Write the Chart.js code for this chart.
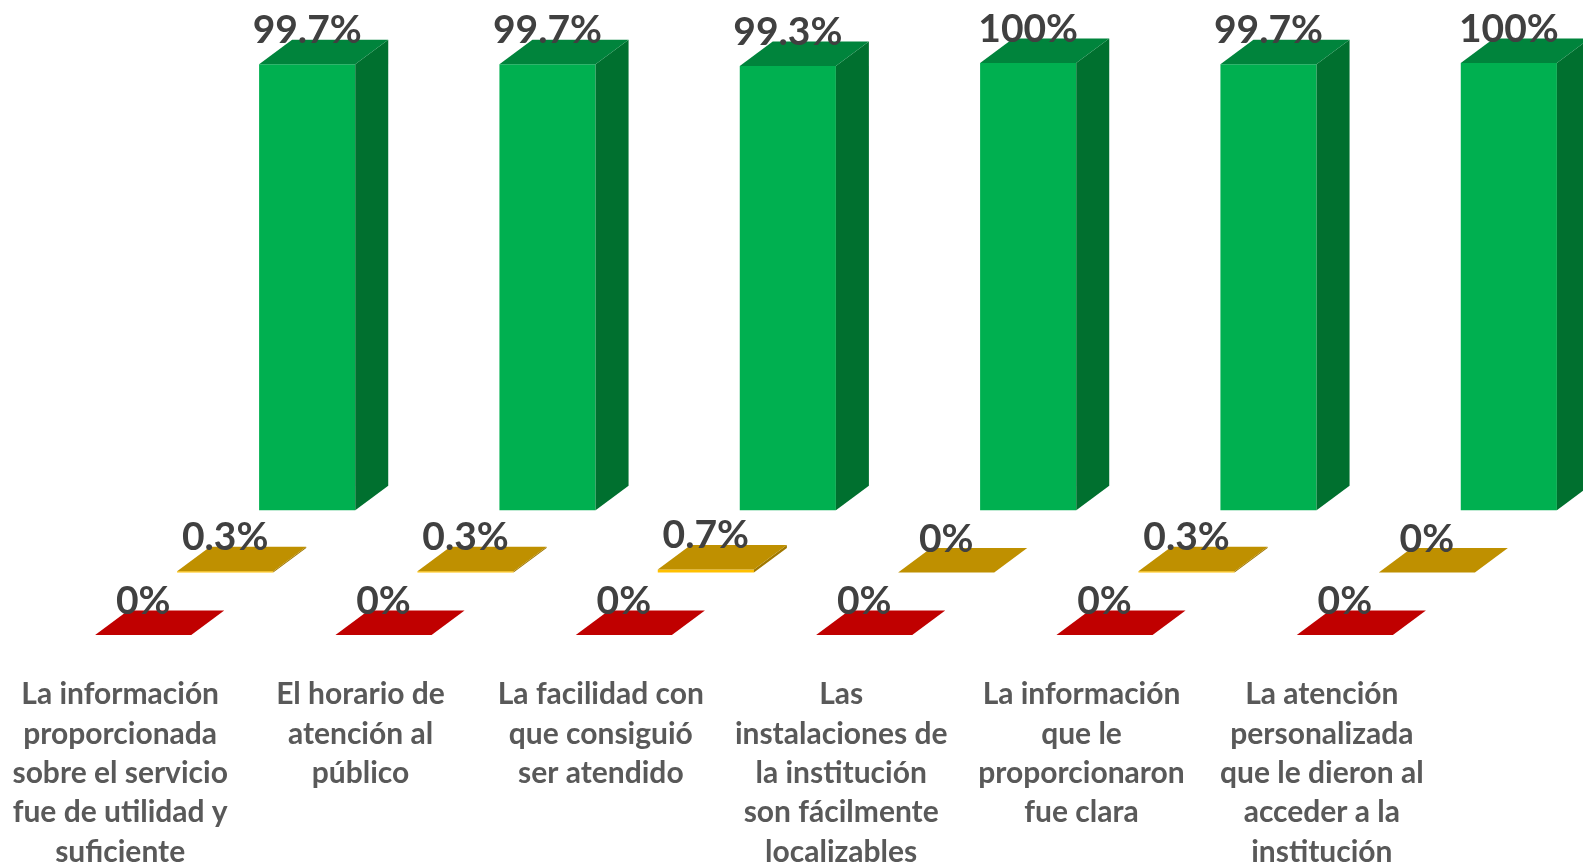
<!DOCTYPE html>
<html>
<head>
<meta charset="utf-8">
<script src="https://cdn.jsdelivr.net/npm/chart.js@4/dist/chart.umd.min.js"></script>
<style>
html,body{margin:0;padding:0;background:#fff;}
#wrap{width:1583px;height:866px;position:relative;overflow:hidden;}
canvas{display:block;}
</style>
</head>
<body>
<div id="wrap"><canvas id="c" width="1583" height="866"></canvas></div>
<script>
// ---- data ----
const categories = [
  ["La información", "proporcionada", "sobre el servicio", "fue de utilidad y", "suficiente"],
  ["El horario de", "atención al", "público"],
  ["La facilidad con", "que consiguió", "ser atendido"],
  ["Las", "instalaciones de", "la institución", "son fácilmente", "localizables"],
  ["La información", "que le", "proporcionaron", "fue clara"],
  ["La atención", "personalizada", "que le dieron al", "acceder a la", "institución"]
];
const seriesNames = ["Insatisfecho", "Regular", "Satisfecho"];
const redValues = [0, 0, 0, 0, 0, 0];
const goldValues = [0.3, 0.3, 0.7, 0, 0.3, 0];
const greenValues = [99.7, 99.7, 99.3, 100, 99.7, 100];

// ---- 3D styling ----
const FACE_DX = 33, FACE_DY = 24.5;   // depth of each box
const ROW_DX = 82, ROW_DY = 62.4;     // offset between depth rows
const SHIFT_X = 23;
const styles = [
  {front: '#FF0000', top: '#C00000', side: '#A00000'},
  {front: '#FFC000', top: '#BF9000', side: '#A07800'},
  {front: '#00B050', top: '#00843C', side: '#00702F'}
];

const depthPlugin = {
  id: 'depth3d',
  beforeDatasetDraw(chart, args) {
    const ctx = chart.ctx;
    const d = args.index;
    ctx.save();
    ctx.translate(SHIFT_X + ROW_DX * d, -ROW_DY * d);
  },
  afterDatasetDraw(chart, args) {
    const ctx = chart.ctx;
    const st = styles[args.index];
    const ds = chart.data.datasets[args.index];
    args.meta.data.forEach((bar, i) => {
      const p = bar.getProps(['x', 'y', 'base', 'width'], true);
      const l = p.x - p.width / 2, r = p.x + p.width / 2;
      const top = Math.min(p.y, p.base), bot = Math.max(p.y, p.base);
      ctx.fillStyle = st.side;
      ctx.beginPath();
      ctx.moveTo(r, top);
      ctx.lineTo(r + FACE_DX, top - FACE_DY);
      ctx.lineTo(r + FACE_DX, bot - FACE_DY);
      ctx.lineTo(r, bot);
      ctx.closePath();
      ctx.fill();
      ctx.fillStyle = st.top;
      ctx.beginPath();
      ctx.moveTo(l, top);
      ctx.lineTo(r, top);
      ctx.lineTo(r + FACE_DX, top - FACE_DY);
      ctx.lineTo(l + FACE_DX, top - FACE_DY);
      ctx.closePath();
      ctx.fill();
      ctx.fillStyle = '#404040';
      ctx.font = 'bold 39px Lato';
      ctx.textAlign = 'center';
      ctx.textBaseline = 'alphabetic';
      ctx.fillText(ds.data[i] + '%', p.x, top - 21);
    });
    ctx.restore();
  }
};

const datasets = [redValues, goldValues, greenValues].map((vals, i) => ({
  label: seriesNames[i],
  data: vals,
  backgroundColor: styles[i].front,
  borderWidth: 0,
  grouped: false,
  categoryPercentage: 1,
  barPercentage: 0.4,
  clip: false
}));

new Chart(document.getElementById('c'), {
  type: 'bar',
  data: {labels: categories, datasets: datasets},
  options: {
    responsive: false,
    animation: false,
    devicePixelRatio: 1,
    layout: {padding: {left: -1, right: 141, top: 187.7, bottom: 0}},
    plugins: {legend: {display: false}, tooltip: {enabled: false}},
    scales: {
      x: {
        grid: {display: false, drawTicks: false},
        border: {display: false},
        ticks: {
          color: '#595959',
          font: {family: 'Lato', weight: 'bold', size: 30, lineHeight: 1.31},
          padding: 40,
          maxRotation: 0,
          minRotation: 0,
          autoSkip: false
        },
        afterFit(s) { s.height = 231; s.paddingLeft = 0; s.paddingRight = 0; }
      },
      y: {display: false, min: 0, max: 100}
    }
  },
  plugins: [depthPlugin]
});
</script>
</body>
</html>
